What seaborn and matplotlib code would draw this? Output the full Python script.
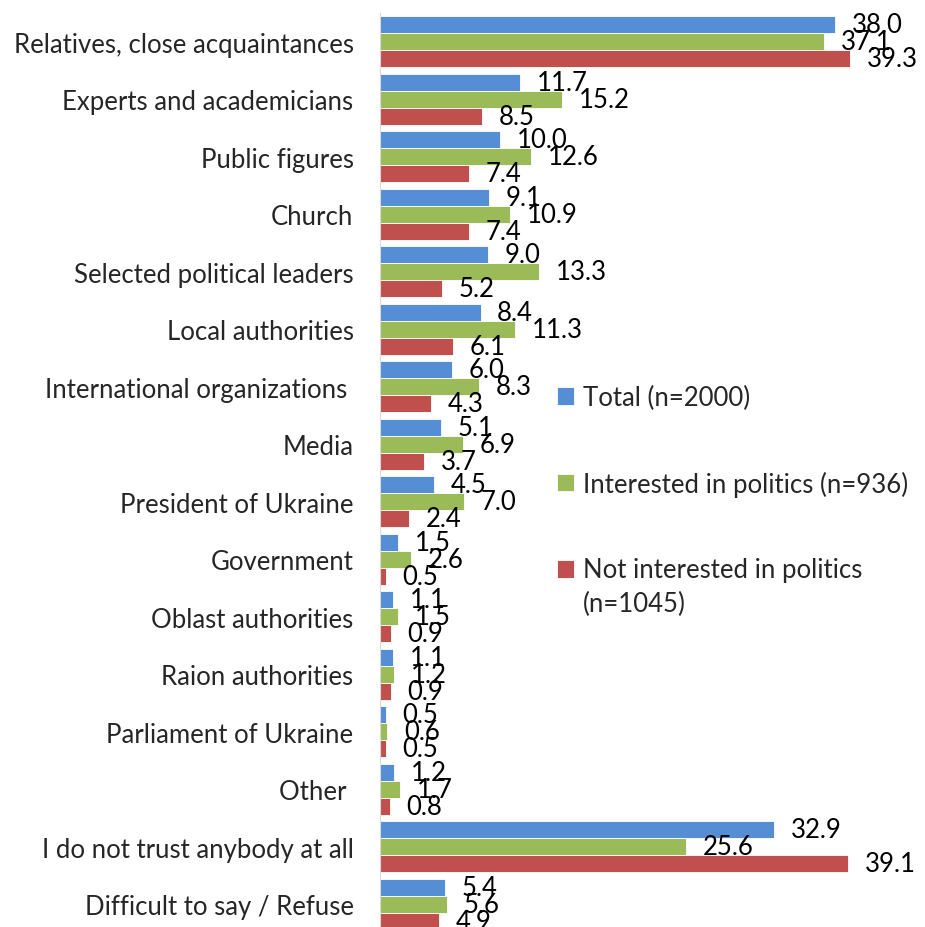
import matplotlib
matplotlib.use("Agg")
import matplotlib.pyplot as plt
import seaborn as sns
import pandas as pd

categories = [
    "Relatives, close acquaintances",
    "Experts and academicians",
    "Public figures",
    "Church",
    "Selected political leaders",
    "Local authorities",
    "International organizations ",
    "Media",
    "President of Ukraine",
    "Government",
    "Oblast authorities",
    "Raion authorities",
    "Parliament of Ukraine",
    "Other ",
    "I do not trust anybody at all",
    "Difficult to say / Refuse",
]
series_names = [
    "Total (n=2000)",
    "Interested in politics (n=936)",
    "Not interested in politics\n(n=1045)",
]
total = [38.0, 11.7, 10.0, 9.1, 9.0, 8.4, 6.0, 5.1, 4.5, 1.5, 1.1, 1.1, 0.5, 1.2, 32.9, 5.4]
interested = [37.1, 15.2, 12.6, 10.9, 13.3, 11.3, 8.3, 6.9, 7.0, 2.6, 1.5, 1.2, 0.6, 1.7, 25.6, 5.6]
not_interested = [39.3, 8.5, 7.4, 7.4, 5.2, 6.1, 4.3, 3.7, 2.4, 0.5, 0.9, 0.9, 0.5, 0.8, 39.1, 4.9]
colors = ["#558ED5", "#9BBB59", "#C0504D"]

rows = []
for name, vals in zip(series_names, [total, interested, not_interested]):
    for c, v in zip(categories, vals):
        rows.append({"category": c, "series": name, "value": v})
df = pd.DataFrame(rows)

sns.set_style("white")
plt.rcParams["font.family"] = ["Lato", "DejaVu Sans"]
FS = 18.5

fig = plt.figure(figsize=(9.25, 9.28), dpi=100)
ax = fig.add_axes([380 / 925, 1 - 933.75 / 928, 540 / 925, (933.75 - 14.25) / 928])

sns.barplot(data=df, y="category", x="value", hue="series", order=categories,
            hue_order=series_names, palette=colors, orient="h", width=0.887,
            saturation=1, ax=ax, edgecolor="white", linewidth=0.6)

for cont in ax.containers:
    ax.bar_label(cont, fmt="%.1f", padding=12, fontsize=FS, color="black")

ax.set_xlim(0, 540 / 11.97)
ax.set_ylim(len(categories) - 0.5, -0.5)
ax.set_xlabel("")
ax.set_ylabel("")
ax.set_xticks([])
ax.tick_params(axis="y", length=0, pad=19, labelsize=FS)
for s in ["top", "right", "bottom"]:
    ax.spines[s].set_visible(False)
ax.spines["left"].set_color("#D9D9D9")
ax.spines["left"].set_linewidth(0.8)

leg = ax.legend(loc="upper left", bbox_to_anchor=(557 / 925, 1 - 386 / 928),
                bbox_transform=fig.transFigure, frameon=False, fontsize=FS,
                handlelength=0.66, handleheight=0.66, handletextpad=0.34,
                labelspacing=2.35, borderaxespad=0, borderpad=0)
leg.set_in_layout(False)
leg.texts[2].set_linespacing(1.45)
h3 = leg.legend_handles[2]
h3.set_y(h3.get_y() + 0.72 * FS)

fig.savefig("out.png", dpi=100)
